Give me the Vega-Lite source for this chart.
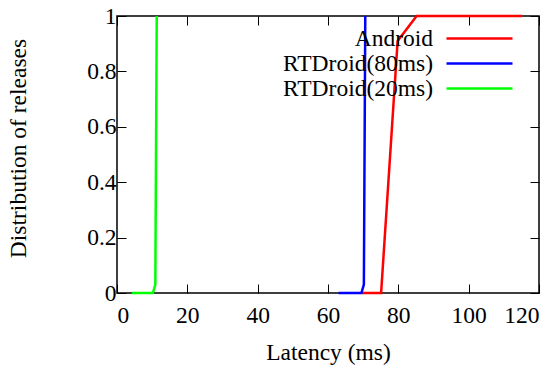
{
  "$schema": "https://vega.github.io/schema/vega-lite/v6.json",
  "width": 422,
  "height": 277,
  "autosize": "none",
  "padding": {"left": 117, "top": 16, "right": 20, "bottom": 76},
  "background": "white",
  "config": {
    "font": "Liberation Serif, Times New Roman, DejaVu Serif, serif",
    "view": {"stroke": "#000", "strokeWidth": 1.5},
    "axis": {
      "labelFont": "Liberation Serif, Times New Roman, DejaVu Serif, serif",
      "labelFontSize": 23.5,
      "labelColor": "#000",
      "titleFont": "Liberation Serif, Times New Roman, DejaVu Serif, serif",
      "titleFontSize": 23.5,
      "titleFontWeight": "normal",
      "titleColor": "#000",
      "grid": false,
      "domain": false,
      "tickColor": "#000",
      "tickSize": -9,
      "tickWidth": 1
    },
    "legend": {"padding": 0}
  },
  "data": {
    "values": [
      {"series": "Android", "latency": 69.8, "dist": 0},
      {"series": "Android", "latency": 75.1, "dist": 0},
      {"series": "Android", "latency": 79.8, "dist": 0.91},
      {"series": "Android", "latency": 85.2, "dist": 1},
      {"series": "Android", "latency": 115.2, "dist": 1},
      {"series": "RTDroid(80ms)", "latency": 63.0, "dist": 0},
      {"series": "RTDroid(80ms)", "latency": 69.5, "dist": 0},
      {"series": "RTDroid(80ms)", "latency": 70.2, "dist": 0.03},
      {"series": "RTDroid(80ms)", "latency": 70.6, "dist": 1},
      {"series": "RTDroid(20ms)", "latency": 4.2, "dist": 0},
      {"series": "RTDroid(20ms)", "latency": 10.2, "dist": 0},
      {"series": "RTDroid(20ms)", "latency": 10.9, "dist": 0.03},
      {"series": "RTDroid(20ms)", "latency": 11.3, "dist": 1}
    ]
  },
  "layer": [
    {
      "mark": {"type": "line", "strokeWidth": 2.5},
      "encoding": {
        "x": {
          "field": "latency", "type": "quantitative",
          "scale": {"domain": [0, 120], "nice": false},
          "axis": {"orient": "bottom", "values": [0, 20, 40, 60, 80, 100, 120], "title": "Latency (ms)", "labelPadding": 19, "titlePadding": 14}
        },
        "y": {
          "field": "dist", "type": "quantitative",
          "scale": {"domain": [0, 1], "nice": false},
          "axis": {"orient": "left", "values": [0, 0.2, 0.4, 0.6, 0.8, 1], "format": ".1~f", "title": "Distribution of releases", "labelPadding": 10, "titlePadding": 56, "titleY": 132}
        },
        "color": {
          "field": "series", "type": "nominal",
          "scale": {"domain": ["Android", "RTDroid(80ms)", "RTDroid(20ms)"], "range": ["#ff0000", "#0000ff", "#00ff00"]},
          "legend": {
            "orient": "none", "legendX": 350, "legendY": 10,
            "title": null, "symbolType": "M-3,0H3", "symbolSize": 484, "symbolStrokeWidth": 2.5, "symbolFillColor": "transparent",
            "labelFont": "Liberation Serif, Times New Roman, DejaVu Serif, serif", "labelFontSize": 23.5, "labelColor": "#000",
            "labelAlign": "right", "labelOffset": -59, "labelLimit": 0, "rowPadding": 1
          }
        }
      }
    },
    {
      "mark": {"type": "point", "opacity": 0},
      "encoding": {
        "x": {"field": "latency", "type": "quantitative", "axis": {"orient": "top", "values": [0, 20, 40, 60, 80, 100, 120], "labels": false, "title": null}},
        "y": {"field": "dist", "type": "quantitative", "axis": {"orient": "right", "values": [0, 0.2, 0.4, 0.6, 0.8, 1], "labels": false, "title": null}}
      }
    }
  ]
}
